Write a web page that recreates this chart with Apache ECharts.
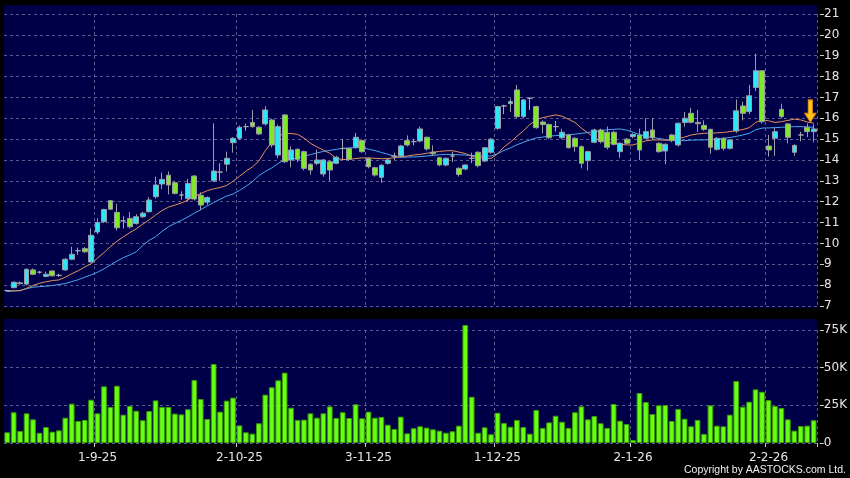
<!DOCTYPE html>
<html>
<head>
<meta charset="utf-8">
<script src="https://cdn.jsdelivr.net/npm/echarts@6/dist/echarts.min.js"></script>
<style>
  html, body { margin: 0; padding: 0; background: #000; }
  #chart { width: 850px; height: 478px; }
</style>
</head>
<body>
<div id="chart"></div>
<script>
// trading days, d-m-yy
const dates = [
  '12-8-25','13-8-25','14-8-25','15-8-25','18-8-25','19-8-25','20-8-25','21-8-25','22-8-25','25-8-25','26-8-25','27-8-25','28-8-25','29-8-25',
  '1-9-25','2-9-25','3-9-25','4-9-25','5-9-25','8-9-25','9-9-25','10-9-25','11-9-25','12-9-25','15-9-25','16-9-25','17-9-25','18-9-25','19-9-25','22-9-25','23-9-25','24-9-25','25-9-25','26-9-25','29-9-25','30-9-25',
  '2-10-25','3-10-25','6-10-25','8-10-25','9-10-25','10-10-25','13-10-25','14-10-25','15-10-25','16-10-25','17-10-25','20-10-25','21-10-25','22-10-25','23-10-25','24-10-25','27-10-25','28-10-25','30-10-25','31-10-25',
  '3-11-25','4-11-25','5-11-25','6-11-25','7-11-25','10-11-25','11-11-25','12-11-25','13-11-25','14-11-25','17-11-25','18-11-25','19-11-25','20-11-25','21-11-25','24-11-25','25-11-25','26-11-25','27-11-25','28-11-25',
  '1-12-25','2-12-25','3-12-25','4-12-25','5-12-25','8-12-25','9-12-25','10-12-25','11-12-25','12-12-25','15-12-25','16-12-25','17-12-25','18-12-25','19-12-25','22-12-25','23-12-25','24-12-25','29-12-25','30-12-25','31-12-25',
  '2-1-26','5-1-26','6-1-26','7-1-26','8-1-26','9-1-26','12-1-26','13-1-26','14-1-26','15-1-26','16-1-26','19-1-26','20-1-26','21-1-26','22-1-26','23-1-26','26-1-26','27-1-26','28-1-26','29-1-26','30-1-26',
  '2-2-26','3-2-26','4-2-26','5-2-26','6-2-26','9-2-26','10-2-26','11-2-26'
];

const tickLabels = ['1-9-25', '2-10-25', '3-11-25', '1-12-25', '2-1-26', '2-2-26'];

// [open, close, low, high]
const ohlc = [
  [7.74,7.74,7.68,7.78],[7.88,8.14,7.85,8.18],[8.07,8.11,8.02,8.17],[8.05,8.76,7.98,8.8],[8.73,8.52,8.48,8.8],
  [8.62,8.62,8.55,8.68],[8.42,8.52,8.38,8.65],[8.68,8.45,8.42,8.7],[8.47,8.47,8.4,8.55],[8.73,9.24,8.68,9.3],
  [9.24,9.48,9.2,9.84],[9.65,9.65,9.45,9.8],[9.75,9.6,9.55,9.82],[9.11,10.39,9.08,10.72],[10.55,11.0,10.45,11.2],
  [11.04,11.63,10.98,11.66],[12.05,11.64,11.6,12.08],[11.49,10.75,10.62,11.9],[11.08,11.08,10.72,11.3],[11.2,10.8,10.72,11.5],
  [10.96,11.28,10.9,11.4],[11.28,11.45,11.22,11.52],[11.52,12.08,11.48,12.22],[12.24,12.8,12.15,13.2],[12.85,13.07,12.6,13.4],
  [13.27,12.8,12.35,13.45],[12.91,12.4,12.35,13.0],[12.32,12.32,12.1,12.5],[12.16,12.87,12.0,13.1],[13.23,12.13,12.05,13.28],
  [12.31,11.84,11.6,12.45],[11.98,12.2,11.85,12.25],[13.0,13.47,12.95,15.76],[13.42,13.42,13.0,13.84],[13.8,14.08,13.45,14.4],
  [14.83,15.04,14.35,15.1],[15.04,15.57,14.95,15.65],[15.6,15.6,15.4,15.75],[15.8,15.6,15.55,16.4],[15.57,15.25,15.2,15.62],
  [15.73,16.4,15.65,16.59],[15.92,14.72,14.6,15.98],[14.24,15.6,14.1,15.7],[16.16,13.92,13.85,16.2],[14.0,14.48,13.65,14.65],
  [14.51,14.03,13.9,14.56],[14.4,13.6,13.5,14.45],[13.79,13.52,13.3,13.85],[13.84,14.0,13.75,14.5],[13.33,14.0,13.2,14.05],
  [13.92,13.52,13.0,13.97],[13.84,14.13,13.8,14.2],[14.55,14.55,14.0,15.0],[14.55,14.03,13.95,14.6],[14.61,15.09,14.55,15.3],
  [14.93,14.4,14.35,14.98],[14.08,13.68,13.6,14.12],[13.63,13.28,13.2,13.68],[13.17,13.75,12.9,13.8],[13.84,14.0,13.78,14.1],
  [14.19,14.19,14.0,14.35],[14.19,14.67,14.12,14.72],[14.93,14.72,14.65,15.18],[14.88,14.88,14.7,15.0],[14.91,15.49,14.85,15.6],
  [15.09,14.53,14.45,15.12],[14.38,14.3,14.2,14.7],[14.11,13.76,13.7,14.15],[13.76,14.08,13.7,14.12],[14.19,14.19,13.9,14.4],
  [13.6,13.31,13.2,13.65],[13.57,13.76,13.5,13.8],[14.08,14.08,13.85,14.35],[14.37,13.73,13.65,14.42],[13.95,14.59,13.9,14.62],
  [14.37,15.0,14.3,15.05],[15.52,16.56,15.45,16.6],[16.59,16.59,16.2,16.65],[16.7,16.8,16.3,16.95],[17.36,16.08,16.0,17.6],
  [16.08,16.88,16.0,16.92],[16.96,16.96,16.4,17.0],[16.56,15.55,15.5,16.6],[15.82,15.7,15.28,15.9],[15.7,15.07,15.0,15.75],
  [15.6,15.6,15.36,15.87],[15.07,15.33,15.0,15.5],[15.2,14.59,14.55,15.25],[15.04,14.64,14.4,15.1],[14.64,13.84,13.6,14.7],
  [13.97,14.4,13.5,14.45],[14.85,15.44,14.8,15.5],[15.44,14.88,14.8,15.5],[15.33,14.61,14.5,15.6],[15.33,14.75,14.7,15.4],
  [14.4,14.8,14.1,14.85],[15.0,14.8,14.75,15.05],[15.12,15.23,15.05,15.28],[15.2,14.48,14.0,15.5],[15.04,15.36,15.0,16.0],
  [15.44,15.07,15.0,16.0],[14.8,14.4,14.35,14.85],[14.43,14.75,13.8,14.8],[15.2,14.93,14.85,15.25],[14.72,15.76,14.65,15.8],
  [15.8,16.0,15.6,16.3],[16.24,15.81,15.75,16.5],[15.8,15.74,15.35,16.4],[15.66,15.47,15.4,15.9],[15.47,14.61,14.3,15.5],
  [14.51,15.04,14.45,15.1],[15.04,14.56,14.45,15.08],[14.56,14.96,14.5,15.0],[15.39,16.36,15.3,16.9],[16.59,16.24,15.9,16.8],
  [16.32,17.08,16.2,17.6],[17.48,18.28,17.3,19.1],[18.28,15.84,15.75,18.3],[14.67,14.48,14.16,15.2],[15.04,15.36,14.2,15.55],
  [16.43,16.08,16.0,16.7],[15.73,15.09,14.8,15.78],[14.37,14.7,14.2,14.75],[15.2,15.2,14.9,15.35],[15.57,15.36,15.1,15.75],
  [15.36,15.49,14.85,15.72]
];

// short moving average (orange)
const maShort = [
  7.73,7.73,7.73,7.85,7.98,8.09,8.16,8.22,8.25,8.38,8.55,8.69,8.87,9.02,9.3,9.56,9.85,10.1,10.32,10.52,
  10.7,10.92,11.13,11.36,11.58,11.74,11.84,11.94,12.08,12.26,12.39,12.53,12.62,12.68,12.78,12.98,13.22,13.46,13.67,13.95,
  14.45,14.85,15.15,15.26,15.27,15.23,15.05,14.8,14.63,14.47,14.32,14.08,14.02,14.03,14.07,14.1,14.1,14.08,14.06,14.07,
  14.11,14.15,14.19,14.24,14.27,14.32,14.37,14.41,14.44,14.45,14.38,14.31,14.18,14.12,14.08,14.08,14.3,14.63,14.86,15.14,
  15.4,15.7,15.93,16.03,16.1,16.16,16.1,15.95,15.8,15.52,15.3,15.06,14.9,14.84,14.81,14.77,14.72,14.72,14.82,14.92,
  14.96,14.96,14.95,14.96,15.02,15.1,15.2,15.25,15.28,15.29,15.3,15.32,15.36,15.41,15.46,15.55,15.8,15.92,15.88,15.8,
  15.84,15.9,15.96,15.92,15.82,15.77
];

// long moving average (blue)
const maLong = [
  7.69,7.72,7.75,7.83,7.9,7.93,7.95,7.98,8.03,8.08,8.17,8.26,8.38,8.49,8.62,8.78,8.97,9.15,9.32,9.45,
  9.6,9.9,10.15,10.32,10.58,10.8,10.96,11.11,11.27,11.45,11.62,11.8,11.96,12.12,12.27,12.37,12.54,12.74,12.96,13.25,
  13.45,13.62,13.84,14.01,14.04,14.1,14.18,14.26,14.34,14.41,14.46,14.51,14.56,14.58,14.59,14.58,14.52,14.45,14.36,14.28,
  14.18,14.13,14.14,14.15,14.16,14.19,14.22,14.25,14.27,14.26,14.25,14.24,14.22,14.2,14.19,14.19,14.3,14.46,14.58,14.73,
  14.85,14.96,15.06,15.1,15.14,15.17,15.19,15.21,15.24,15.28,15.32,15.36,15.4,15.45,15.47,15.49,15.43,15.33,15.22,15.12,
  15.08,15.03,14.98,14.94,14.92,14.93,14.95,14.96,14.96,14.98,15.0,15.04,15.08,15.13,15.2,15.28,15.45,15.53,15.54,15.55,
  15.57,15.58,15.6,15.6,15.58,15.57
];

// volume in thousands
const volumeK = [
  7.1,20.4,8.0,19.7,15.7,6.8,10.6,7.5,8.4,16.8,26.1,14.6,15.3,28.7,19.7,37.6,23.9,38.0,18.8,24.6,
  21.4,15.1,21.2,28.3,23.9,23.9,19.5,19.0,22.4,41.8,29.2,15.9,52.4,20.8,28.1,30.1,11.7,7.1,6.2,13.1,
  32.1,37.0,41.6,46.7,23.4,15.3,15.5,19.7,16.8,19.7,24.3,16.6,20.4,16.6,25.7,16.4,20.8,16.8,17.3,12.1,
  9.3,17.5,6.4,9.8,11.1,10.2,9.1,8.2,6.8,7.8,11.5,78.3,30.7,6.8,10.4,5.8,20.1,13.3,10.8,15.3,
  10.6,6.2,21.9,10.0,13.7,18.1,14.1,10.0,20.4,24.3,15.7,17.9,13.1,10.0,25.9,14.8,12.6,2.0,33.2,27.2,
  19.2,25.0,25.2,14.6,22.6,16.1,11.1,15.3,6.0,25.0,11.5,11.1,18.8,41.1,24.1,27.4,35.6,34.0,28.5,24.6,
  23.2,15.7,8.2,11.3,11.5,15.1
];

const arrowAt = [124, 16.35];

const chart = echarts.init(document.getElementById('chart'));

const showTick = (idx, val) => tickLabels.indexOf(val) >= 0;
const gridDash = { show: true, interval: showTick, lineStyle: { color: '#5a5a90', type: [3, 3], width: 1 } };
const labelStyle = { color: '#e6e6e6', fontFamily: 'DejaVu Sans', fontSize: 12 };

const option = {
  animation: false,
  backgroundColor: '#000',
  graphic: [
    { type: 'rect', z: -100, shape: { x: 4, y: 5, width: 813, height: 303 }, style: { fill: '#000048' } },
    { type: 'rect', z: -100, shape: { x: 4, y: 319, width: 813, height: 124 }, style: { fill: '#000048' } },
    { type: 'text', right: 4, top: 465, style: { text: 'Copyright by AASTOCKS.com Ltd.', fill: '#f0f0f0', font: '10.5px "Liberation Sans"' } }
  ],
  grid: [
    { left: 4, right: 33, top: 14, height: 292 },
    { left: 4, right: 33, top: 330, height: 113 }
  ],
  xAxis: [
    {
      type: 'category', gridIndex: 0, data: dates, boundaryGap: true,
      axisLine: { show: false }, axisTick: { show: false }, axisLabel: { show: false },
      splitLine: gridDash
    },
    {
      type: 'category', gridIndex: 1, data: dates, boundaryGap: true,
      axisLine: { show: false },
      axisTick: { show: true, interval: showTick, length: 4, lineStyle: { color: '#cccccc' } },
      axisLabel: Object.assign({ interval: showTick, margin: 9 }, labelStyle),
      splitLine: gridDash
    }
  ],
  yAxis: [
    {
      type: 'value', gridIndex: 0, position: 'right', min: 7, max: 21, interval: 1, offset: 3,
      axisLine: { show: false },
      axisTick: { show: true, length: 4, lineStyle: { color: '#cccccc' } },
      axisLabel: Object.assign({ margin: 4 }, labelStyle),
      splitLine: { show: true, lineStyle: { color: '#5a5a90', type: [3, 3], width: 1 } }
    },
    {
      type: 'value', gridIndex: 1, position: 'right', min: 0, max: 75, interval: 25, offset: 3,
      axisLine: { show: false },
      axisTick: { show: true, length: 4, lineStyle: { color: '#cccccc' } },
      axisLabel: Object.assign({ margin: 4, formatter: v => v === 0 ? '0' : v + 'K' }, labelStyle),
      splitLine: { show: true, lineStyle: { color: '#5a5a90', type: [3, 3], width: 1 } }
    }
  ],
  series: [
    {
      type: 'line', xAxisIndex: 0, yAxisIndex: 0, data: maLong, symbol: 'none', z: 3,
      lineStyle: { color: '#4aa8ec', width: 1 }
    },
    {
      type: 'line', xAxisIndex: 0, yAxisIndex: 0, data: maShort, symbol: 'none', z: 3,
      lineStyle: { color: '#e8905c', width: 1 }
    },
    {
      type: 'candlestick', xAxisIndex: 0, yAxisIndex: 0, data: ohlc, barWidth: '82%', z: 4,
      itemStyle: {
        color: '#2ee6f6', color0: '#80e824',
        borderColor: '#9c9ca8', borderColor0: '#9c9ca8', borderColorDoji: '#a8a8b0', borderWidth: 1
      },
      markPoint: {
        symbol: 'path://M3,0 L7,0 L7,11 L10,11 L5,18 L0,11 L3,11 Z',
        symbolSize: [11, 22],
        symbolOffset: [3, 0],
        label: { show: false },
        itemStyle: { color: '#ffc619', borderColor: '#e08a00', borderWidth: 1 },
        data: [{ coord: arrowAt }]
      }
    },
    {
      type: 'bar', xAxisIndex: 1, yAxisIndex: 1, data: volumeK, barWidth: '88%', clip: false,
      itemStyle: { color: '#66ff11', borderColor: '#3d9a08', borderWidth: 1 }
    }
  ]
};

chart.setOption(option);
</script>
</body>
</html>
